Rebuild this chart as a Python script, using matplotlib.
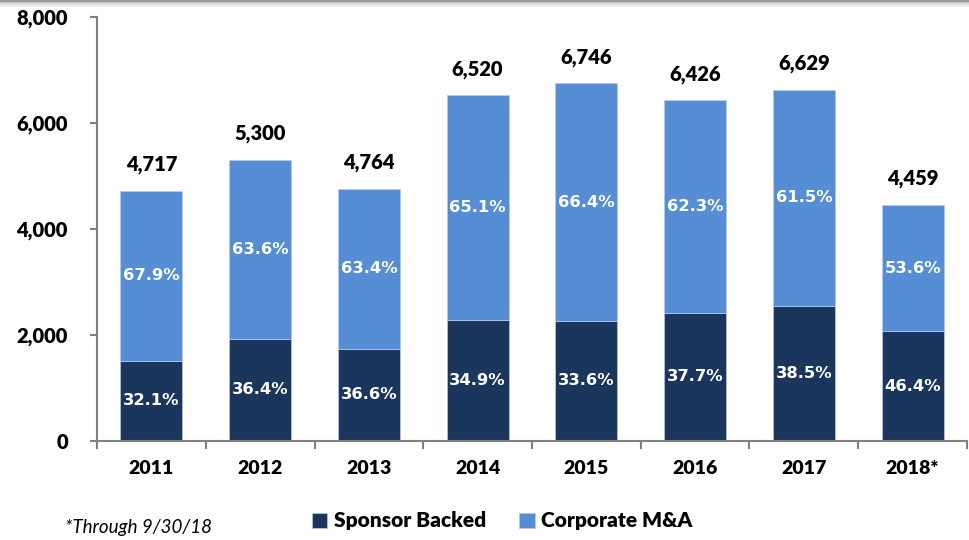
import matplotlib
matplotlib.use("Agg")
import matplotlib.pyplot as plt
from matplotlib.lines import Line2D

years = ["2011", "2012", "2013", "2014", "2015", "2016", "2017", "2018*"]
totals = [4717, 5300, 4764, 6520, 6746, 6426, 6629, 4459]
sponsor_pct = [32.1, 36.4, 36.6, 34.9, 33.6, 37.7, 38.5, 46.4]
corporate_pct = [67.9, 63.6, 63.4, 65.1, 66.4, 62.3, 61.5, 53.6]
sponsor = [1514, 1929, 1744, 2275, 2267, 2423, 2552, 2069]
corporate = [3203, 3371, 3020, 4245, 4479, 4003, 4077, 2390]
yticks = [0, 2000, 4000, 6000, 8000]

DARK = "#1b365d"
LIGHT = "#558ed5"
FONT = ["Lato", "DejaVu Sans"]
plt.rcParams["font.family"] = FONT

fig = plt.figure(figsize=(9.7, 5.4), dpi=100)
ax = fig.add_axes([97 / 970, 1 - 441 / 540, 870 / 970, 424 / 540])

x = list(range(len(years)))
w = 0.57
ax.bar(x, sponsor, w, color=DARK, label="Sponsor Backed", zorder=2,
       edgecolor="#b8cbe6", linewidth=0.5)
ax.bar(x, corporate, w, bottom=sponsor, color=LIGHT, label="Corporate M&A", zorder=2,
       edgecolor="#b8cbe6", linewidth=0.5)

for i in x:
    ax.text(i, sponsor[i] / 2, f"{sponsor_pct[i]:.1f}%", ha="center", va="center",
            color="white", fontsize=11.8, fontweight="bold", family="DejaVu Sans")
    ax.text(i, sponsor[i] + corporate[i] / 2, f"{corporate_pct[i]:.1f}%", ha="center",
            va="center", color="white", fontsize=11.8, fontweight="bold", family="DejaVu Sans")
    ax.annotate(f"{totals[i]:,}", (i, totals[i]), xytext=(0, 12), textcoords="offset points",
                ha="center", va="bottom", fontsize=14.5, fontweight="heavy", color="black")

ax.set_xlim(-0.5, len(years) - 0.5)
ax.set_ylim(0, 8000)
ax.set_yticks(yticks)
ax.set_yticklabels([f"{v:,}" for v in yticks], fontsize=14.5, fontweight="heavy")
ax.set_xticks(x)
ax.set_xticklabels(years, fontsize=14, fontweight="heavy")
ax.tick_params(axis="x", length=0, pad=14)
ax.tick_params(axis="y", length=5, width=1.5, color="#808080", pad=16)
ax.set_xticks([i - 0.5 for i in range(len(years) + 1)], minor=True)
ax.tick_params(axis="x", which="minor", length=6, width=1.5, color="#808080")
for s in ["top", "right"]:
    ax.spines[s].set_visible(False)
for s in ["left", "bottom"]:
    ax.spines[s].set_color("#808080")
    ax.spines[s].set_linewidth(1.5)

leg = fig.legend(loc="center", bbox_to_anchor=(502 / 970, 1 - 521 / 540), ncol=2, frameon=False,
                 prop={"family": FONT, "weight": "heavy", "size": 15}, handlelength=0.75,
                 handleheight=0.75, handletextpad=0.3, columnspacing=1.6)

fig.text(65 / 970, 1 - 528 / 540, "*Through 9/30/18", fontsize=13.5, style="italic",
         ha="left", va="center")

# subtle top shadow
for k, c in enumerate(["#9a9a9a", "#bdbdbd", "#dddddd", "#efefef"]):
    fig.add_artist(Line2D([0, 1], [1 - (1 + k * 1.5) / 540] * 2, color=c, lw=1.5))

fig.savefig("out.png", dpi=100)
